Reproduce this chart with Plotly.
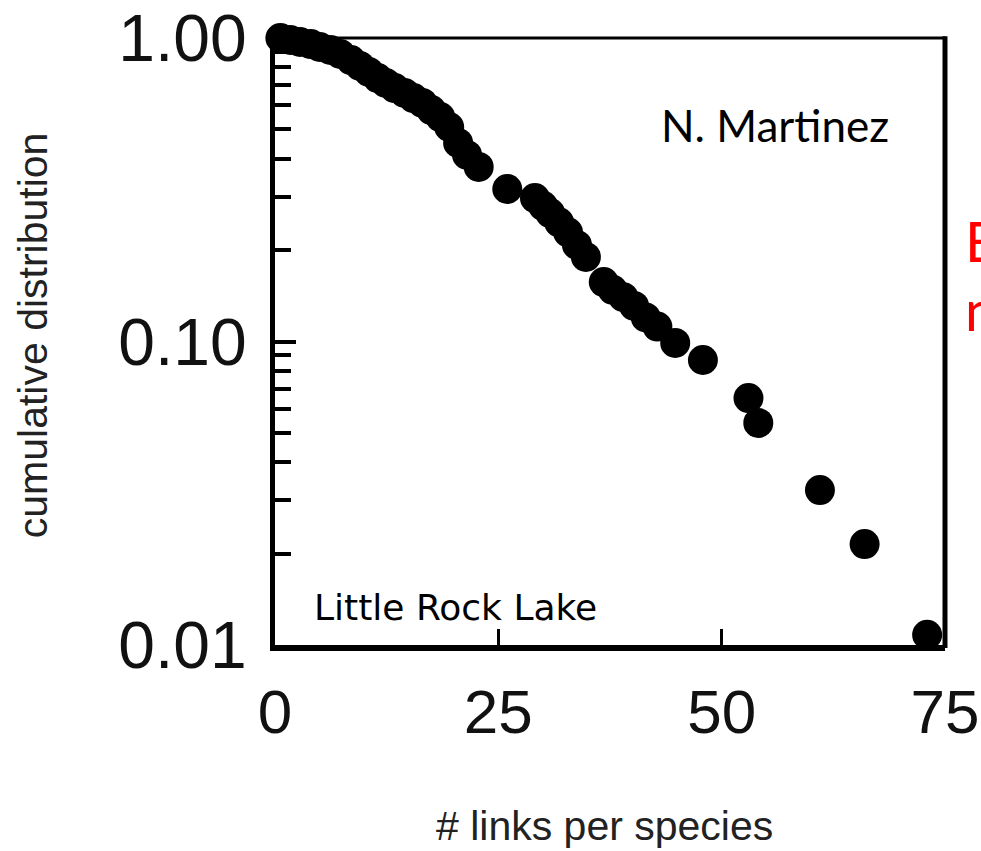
import plotly.graph_objects as go

# data
links = [0.6, 1.7, 2.8, 4.0, 5.0, 6.2, 7.3, 8.5, 9.5, 10.5, 11.5, 12.4, 13.4, 14.5,
         15.5, 16.5, 17.5, 18.5, 19.5, 20.5, 21.5, 22.8, 26.0, 29.1, 30.0, 30.8,
         31.8, 32.8, 33.8, 34.8, 36.8, 37.8, 39.0, 40.2, 41.5, 42.8, 44.8, 47.9,
         53.0, 54.1, 61.0, 66.0, 73.0]
cumdist = [1.000, 0.985, 0.970, 0.955, 0.934, 0.913, 0.886, 0.846, 0.809, 0.773,
           0.738, 0.711, 0.684, 0.659, 0.634, 0.611, 0.579, 0.549, 0.509, 0.451,
           0.412, 0.376, 0.318, 0.297, 0.280, 0.265, 0.247, 0.229, 0.208, 0.190,
           0.157, 0.148, 0.140, 0.131, 0.120, 0.112, 0.0989, 0.0869, 0.0651,
           0.0539, 0.0324, 0.0215, 0.0108]

x_ticks = [0, 25, 50, 75]
y_ticks = [0.01, 0.1, 1.0]
y_ticktext = ["0.01", "0.10", "1.00"]
y_minor = [0.02, 0.03, 0.04, 0.05, 0.06, 0.07, 0.08, 0.09,
           0.2, 0.3, 0.4, 0.5, 0.6, 0.7, 0.8, 0.9]

fig = go.Figure()
fig.add_trace(go.Scatter(
    x=links, y=cumdist, mode="markers",
    marker=dict(size=30, color="black", line=dict(width=0)),
    cliponaxis=False, showlegend=False,
))

x_tick_font = dict(family="Liberation Sans, Arial, sans-serif", size=62, color="#111")
y_tick_font = dict(family="Liberation Sans, Arial, sans-serif", size=66, color="#111")

fig.update_xaxes(
    range=[0, 75], tickvals=x_ticks, ticks="inside", ticklen=16, tickwidth=3,
    tickcolor="black", showgrid=False, zeroline=False,
    showline=True, linewidth=6, linecolor="black",
    tickfont=x_tick_font, ticklabelstandoff=8, automargin=False,
)
fig.update_yaxes(
    type="log", range=[-2, 0], tickvals=y_ticks, ticktext=y_ticktext,
    ticks="inside", ticklen=21, tickwidth=4, tickcolor="black",
    minor=dict(tickvals=y_minor, ticks="inside", ticklen=16, tickwidth=4,
               tickcolor="black", showgrid=False),
    showgrid=False, zeroline=False,
    showline=True, linewidth=5, linecolor="black",
    tickfont=y_tick_font, ticklabelstandoff=10, automargin=False,
)

# top and right frame lines
fig.add_shape(type="line", xref="paper", yref="paper", x0=0, x1=1, y0=1, y1=1,
              line=dict(color="black", width=3))
fig.add_shape(type="line", xref="paper", yref="paper", x0=1, x1=1, y0=-0.005, y1=1.003,
              line=dict(color="black", width=5))

title_font = dict(family="Liberation Sans, Arial, sans-serif", size=41, color="#222")
fig.add_annotation(text="cumulative distribution", xref="paper", yref="paper",
                   x=-0.36, y=0.51, textangle=-90, showarrow=False,
                   font=title_font, xanchor="center", yanchor="middle")
fig.add_annotation(text="# links per species", xref="paper", yref="paper",
                   x=0.4925, y=-0.298, showarrow=False,
                   font=title_font, xanchor="center", yanchor="middle")
fig.add_annotation(text="N. Martinez", xref="paper", yref="paper",
                   x=0.746, y=0.857, showarrow=False,
                   font=dict(family="Lato, sans-serif", size=44, color="black"),
                   xanchor="center", yanchor="middle")
fig.add_annotation(text="Little Rock Lake", xref="paper", yref="paper",
                   x=0.2687, y=0.0626, showarrow=False,
                   font=dict(family="DejaVu Sans, sans-serif", size=36, color="black"),
                   xanchor="center", yanchor="middle")
fig.add_annotation(text="E", xref="paper", yref="paper",
                   x=1.027, y=0.667, showarrow=False,
                   font=dict(family="Lato, sans-serif", size=56, color="red"),
                   xanchor="left", yanchor="middle")
fig.add_annotation(text="n", xref="paper", yref="paper",
                   x=1.027, y=0.552, showarrow=False,
                   font=dict(family="Lato, sans-serif", size=56, color="red"),
                   xanchor="left", yanchor="middle")

fig.update_layout(
    width=981, height=851,
    margin=dict(l=275, r=36, t=38, b=206),
    paper_bgcolor="white", plot_bgcolor="white",
)

fig.write_html("out.html")
